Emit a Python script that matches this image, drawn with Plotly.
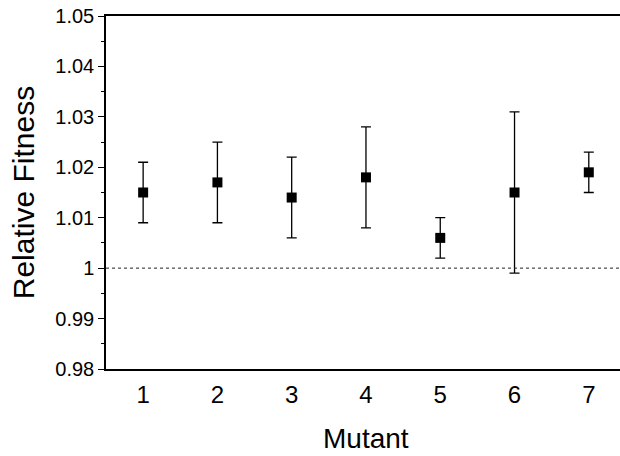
import plotly.graph_objects as go

mutants = [1, 2, 3, 4, 5, 6, 7]
fitness = [1.015, 1.017, 1.014, 1.018, 1.006, 1.015, 1.019]
upper = [1.021, 1.025, 1.022, 1.028, 1.010, 1.031, 1.023]
lower = [1.009, 1.009, 1.006, 1.008, 1.002, 0.999, 1.015]
ytick_vals = [0.98, 0.99, 1.00, 1.01, 1.02, 1.03, 1.04, 1.05]
ytick_text = ["0.98", "0.99", "1", "1.01", "1.02", "1.03", "1.04", "1.05"]
xtick_text = ["1", "2", "3", "4", "5", "6", "7"]

err_plus = [u - f for u, f in zip(upper, fitness)]
err_minus = [f - l for f, l in zip(fitness, lower)]

FONT = "Liberation Sans, Arial, sans-serif"

fig = go.Figure()
fig.add_trace(go.Scatter(
    x=mutants, y=fitness, mode="markers",
    marker=dict(symbol="square", size=10, color="black"),
    error_y=dict(type="data", symmetric=False, array=err_plus, arrayminus=err_minus,
                 color="black", thickness=1.3, width=5),
    showlegend=False,
))

fig.add_shape(type="line", xref="paper", x0=0, x1=1, yref="y", y0=1.0, y1=1.0,
              line=dict(color="#222222", width=1, dash="dot"))

fig.add_annotation(text="Mutant", xref="paper", yref="paper", x=0.505, y=-0.197,
                   xanchor="center", yanchor="middle", showarrow=False,
                   font=dict(size=28, family=FONT, color="black"))
fig.add_annotation(text="Relative Fitness", xref="paper", yref="paper", x=-0.16, y=0.5,
                   xanchor="center", yanchor="middle", textangle=-90, showarrow=False,
                   font=dict(size=30, family=FONT, color="black"))

fig.update_layout(
    width=620, height=456,
    margin=dict(l=106, r=0, t=16, b=87),
    paper_bgcolor="white", plot_bgcolor="white",
    font=dict(family=FONT, color="black"),
    xaxis=dict(
        range=[0.5, 7.42], tickmode="array", tickvals=mutants, ticktext=xtick_text,
        showline=True, linecolor="black", linewidth=1.5, mirror=True,
        ticks="outside", ticklen=3, tickcolor="rgba(0,0,0,0)",
        showgrid=False, zeroline=False, automargin=False,
        tickfont=dict(size=24, family=FONT),
    ),
    yaxis=dict(
        range=[0.98, 1.05], tickmode="array", tickvals=ytick_vals, ticktext=ytick_text,
        showline=True, linecolor="black", linewidth=1.5,
        ticks="outside", ticklen=6, tickwidth=1, tickcolor="black",
        minor=dict(ticks="outside", ticklen=3, tick0=0.98, dtick=0.005, tickcolor="black"),
        showgrid=False, zeroline=False, ticklabeloverflow="allow", automargin=False,
        tickfont=dict(size=20, family=FONT),
    ),
)

fig.write_html("out.html", config={"displayModeBar": False},
               post_script="document.body.style.margin='0';")
